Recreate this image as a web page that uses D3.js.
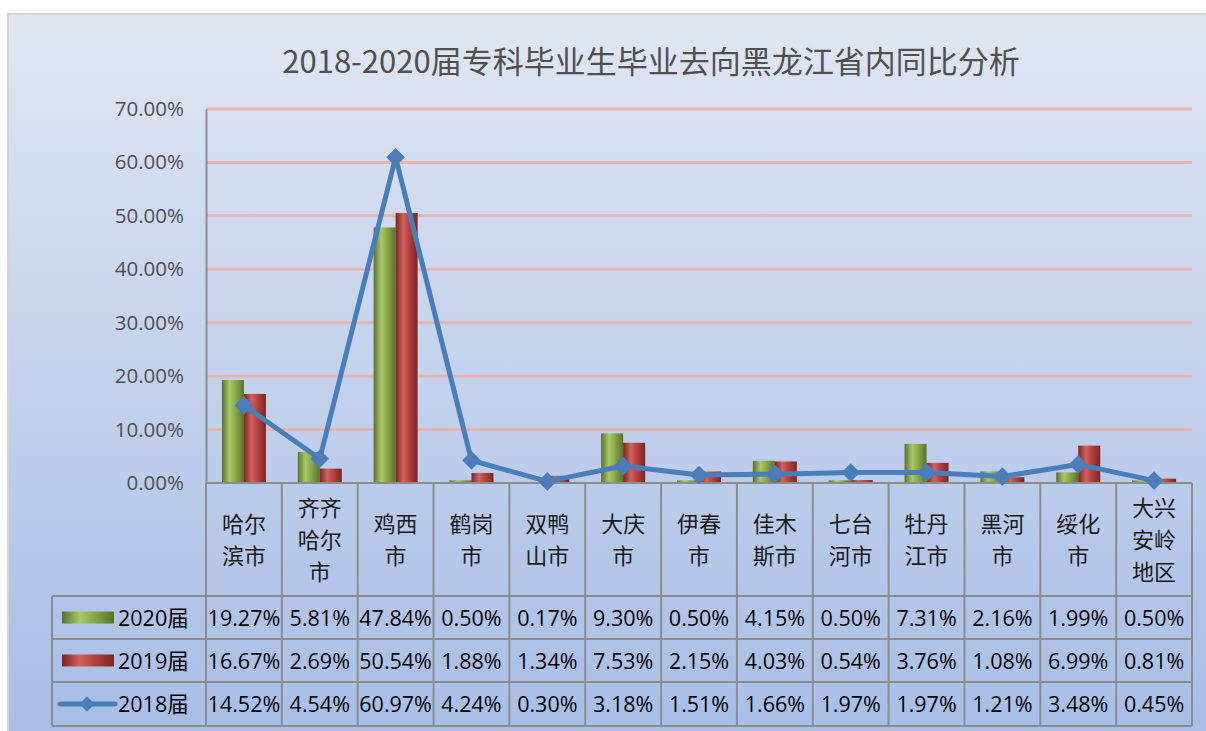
<!DOCTYPE html>
<html>
<head>
<meta charset="utf-8">
<script src="https://cdn.jsdelivr.net/npm/d3@7"></script>
<style>
  body { margin: 0; background: #fff; }
  svg { display: block; }
</style>
</head>
<body>
<div id="chart"></div>
<script>
// data
var categories = ["哈尔滨市", "齐齐哈尔市", "鸡西市", "鹤岗市", "双鸭山市", "大庆市", "伊春市",
  "佳木斯市", "七台河市", "牡丹江市", "黑河市", "绥化市", "大兴安岭地区"]
var series2020 = [19.27, 5.81, 47.84, 0.50, 0.17, 9.30, 0.50, 4.15, 0.50, 7.31, 2.16, 1.99, 0.50]
var series2019 = [16.67, 2.69, 50.54, 1.88, 1.34, 7.53, 2.15, 4.03, 0.54, 3.76, 1.08, 6.99, 0.81]
var series2018 = [14.52, 4.54, 60.97, 4.24, 0.30, 3.18, 1.51, 1.66, 1.97, 1.97, 1.21, 3.48, 0.45]
var seriesNames = ["2020届", "2019届", "2018届"]
var yTicks = [0, 10, 20, 30, 40, 50, 60, 70]
var title = "2018-2020届专科毕业生毕业去向黑龙江省内同比分析"

var width = 1206, height = 731
var plot = {left: 206, right: 1192, top: 109, bottom: 483}
var tableLeft = 52, rowTops = [596, 639, 682, 726]

var svg = d3.select("#chart").append("svg")
  .attr("width", width)
  .attr("height", height)

var defs = svg.append("defs")

var bg = defs.append("linearGradient").attr("id", "bg")
  .attr("x1", 0).attr("y1", 0).attr("x2", 0).attr("y2", 1)
bg.append("stop").attr("offset", "0%").attr("stop-color", "#e0e6f3")
bg.append("stop").attr("offset", "100%").attr("stop-color", "#a7bde6")

// cylinder-ish shading for the bars
function barGradient(id, dark, mid, light) {
  var g = defs.append("linearGradient").attr("id", id)
    .attr("x1", 0).attr("y1", 0).attr("x2", 1).attr("y2", 0)
  g.append("stop").attr("offset", "0%").attr("stop-color", dark)
  g.append("stop").attr("offset", "35%").attr("stop-color", light)
  g.append("stop").attr("offset", "60%").attr("stop-color", mid)
  g.append("stop").attr("offset", "100%").attr("stop-color", dark)
}
barGradient("green", "#5a7030", "#8caa48", "#a9c868")
barGradient("red", "#7a2624", "#b9423f", "#d0625f")

svg.append("rect")
  .attr("x", 8).attr("y", 14)
  .attr("width", width).attr("height", height)
  .attr("fill", "url(#bg)")
  .attr("stroke", "#d4d4d4")
  .attr("stroke-width", 2)

svg.append("text")
  .attr("x", 651).attr("y", 73)
  .attr("text-anchor", "middle")
  .attr("font-family", "'Noto Sans CJK SC', 'Noto Sans', sans-serif")
  .attr("font-size", 31)
  .attr("fill", "#505050")
  .text(title)

var x = d3.scaleBand()
  .domain(categories)
  .range([plot.left, plot.right])

var y = d3.scaleLinear()
  .domain([0, 70])
  .range([plot.bottom, plot.top])

// gridlines
svg.append("g")
  .selectAll("line")
  .data(yTicks.filter(function(d) { return d > 0 }))
  .enter().append("line")
  .attr("x1", plot.left).attr("x2", plot.right)
  .attr("y1", function(d) { return y(d) })
  .attr("y2", function(d) { return y(d) })
  .attr("stroke", "#e8b4b2")
  .attr("stroke-width", 3)

// y axis
var yAxis = d3.axisLeft(y)
  .tickValues(yTicks)
  .tickSize(0)
  .tickPadding(22)
  .tickFormat(function(d) { return d.toFixed(2) + "%" })
var ya = svg.append("g")
  .attr("transform", "translate(" + plot.left + ",0)")
  .call(yAxis)
ya.select(".domain").attr("stroke", "#8c8c8c").attr("stroke-width", 2)
ya.selectAll("text")
  .attr("font-family", "'Open Sans', 'Noto Sans', sans-serif")
  .attr("font-size", 20.5)
  .attr("fill", "#505050")

// bars
var barW = 22
function drawBars(values, fill, offset) {
  svg.append("g")
    .selectAll("rect")
    .data(values)
    .enter().append("rect")
    .attr("x", function(d, i) { return x(categories[i]) + x.bandwidth() / 2 + offset })
    .attr("y", function(d) { return y(d) })
    .attr("width", barW)
    .attr("height", function(d) { return y(0) - y(d) })
    .attr("fill", fill)
}
drawBars(series2020, "url(#green)", -barW)
drawBars(series2019, "url(#red)", 0)

// table grid
var grid = svg.append("g")
  .attr("stroke", "#8c8c8c")
  .attr("stroke-width", 2)
  .attr("fill", "none")
grid.append("line")
  .attr("x1", plot.left).attr("x2", plot.right)
  .attr("y1", plot.bottom).attr("y2", plot.bottom)
rowTops.forEach(function(r) {
  grid.append("line")
    .attr("x1", tableLeft).attr("x2", plot.right)
    .attr("y1", r).attr("y2", r)
})
grid.append("line")
  .attr("x1", tableLeft).attr("x2", tableLeft)
  .attr("y1", rowTops[0]).attr("y2", rowTops[3])
categories.concat([null]).forEach(function(c, i) {
  var xx = plot.left + i * x.bandwidth()
  grid.append("line")
    .attr("x1", xx).attr("x2", xx)
    .attr("y1", plot.bottom).attr("y2", rowTops[3])
})

// category labels, two characters per line, one text per line
var lineH = 32
categories.forEach(function(d) {
  var lines = d.match(/.{1,2}/g)
  var cx = x(d) + x.bandwidth() / 2
  var cy = (plot.bottom + rowTops[0]) / 2 - (lines.length - 1) * lineH / 2 + 8
  lines.forEach(function(l, k) {
    svg.append("text")
      .attr("x", cx).attr("y", cy + k * lineH)
      .attr("text-anchor", "middle")
      .attr("font-family", "'Noto Sans CJK SC', sans-serif")
      .attr("font-size", 22)
      .attr("fill", "#1a1a1a")
      .text(l)
  })
})

// table values
var rows = [series2020, series2019, series2018]
rows.forEach(function(vals, r) {
  var cy = (rowTops[r] + rowTops[r + 1]) / 2 + 8
  svg.append("g")
    .selectAll("text")
    .data(vals)
    .enter().append("text")
    .attr("x", function(d, i) { return x(categories[i]) + x.bandwidth() / 2 })
    .attr("y", cy)
    .attr("text-anchor", "middle")
    .attr("font-family", "'Open Sans', 'Noto Sans', sans-serif")
    .attr("font-size", 21.5)
    .attr("fill", "#000")
    .text(function(d) { return d.toFixed(2) + "%" })
  svg.append("text")
    .attr("x", 118).attr("y", cy)
    .attr("font-family", "'Open Sans', 'Noto Sans CJK SC', sans-serif")
    .attr("font-size", 21.5)
    .attr("fill", "#000")
    .text(seriesNames[r])
})

// legend keys
var keyY = function(r) { return (rowTops[r] + rowTops[r + 1]) / 2 }
svg.append("rect").attr("x", 62).attr("y", keyY(0) - 6).attr("width", 52).attr("height", 12)
  .attr("fill", "url(#green)")
svg.append("rect").attr("x", 62).attr("y", keyY(1) - 6).attr("width", 52).attr("height", 12)
  .attr("fill", "url(#red)")
svg.append("line").attr("x1", 60).attr("x2", 115).attr("y1", keyY(2)).attr("y2", keyY(2))
  .attr("stroke", "#4a7ebb").attr("stroke-width", 5).attr("stroke-linecap", "round")
svg.append("path")
  .attr("d", d3.symbol().type(d3.symbolDiamond2).size(150)())
  .attr("transform", "translate(87," + keyY(2) + ")")
  .attr("fill", "#4a7ebb")

// 2018 line
var line = d3.line()
  .x(function(d, i) { return x(categories[i]) + x.bandwidth() / 2 })
  .y(function(d) { return y(d) })
svg.append("path")
  .datum(series2018)
  .attr("d", line)
  .attr("fill", "none")
  .attr("stroke", "#4a7ebb")
  .attr("stroke-width", 5)
  .attr("stroke-linejoin", "round")
svg.append("g")
  .selectAll("path")
  .data(series2018)
  .enter().append("path")
  .attr("d", d3.symbol().type(d3.symbolDiamond2).size(220)())
  .attr("transform", function(d, i) {
    return "translate(" + (x(categories[i]) + x.bandwidth() / 2) + "," + y(d) + ")"
  })
  .attr("fill", "#4a7ebb")
</script>
</body>
</html>
